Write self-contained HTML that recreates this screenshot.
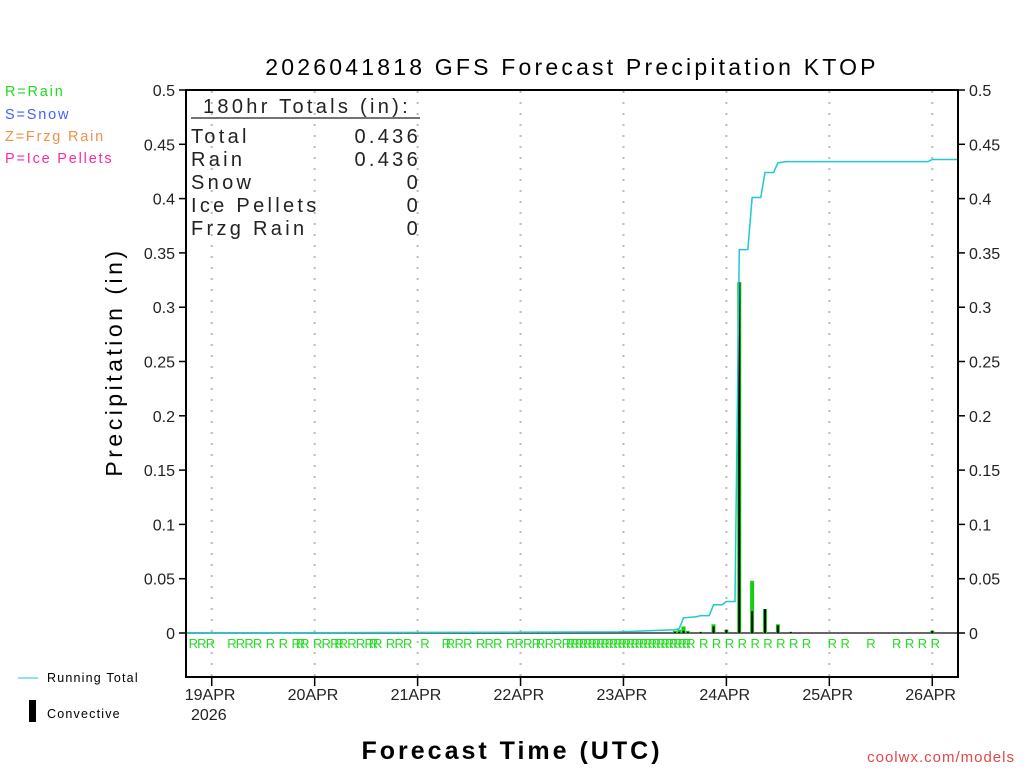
<!DOCTYPE html>
<html><head><meta charset="utf-8"><style>
html,body{margin:0;padding:0;background:#fff;}
svg{display:block;font-family:"Liberation Sans",sans-serif;}
</style></head><body>
<svg id="chart" width="1024" height="768" viewBox="0 0 1024 768">
<text x="572" y="75" font-size="23" text-anchor="middle" fill="#000" letter-spacing="3.2">2026041818 GFS Forecast Precipitation KTOP</text>
<g font-size="14.5" letter-spacing="1.8">
<text x="5" y="96" fill="#22dd22">R=Rain</text>
<text x="5" y="119" fill="#4060ff">S=Snow</text>
<text x="5" y="141" fill="#f0904a">Z=Frzg Rain</text>
<text x="5" y="163" fill="#ff2aa0">P=Ice Pellets</text>
</g>
<g id="grid"></g>
<g id="marks"></g>
<g id="labels"></g>
<rect x="186" y="90" width="772" height="587" fill="none" stroke="#000" stroke-width="2"/>
<g font-size="20" fill="#222" letter-spacing="3.3">
<text x="203" y="113">180hr Totals (in):</text>
<line x1="191" y1="118" x2="420" y2="118" stroke="#222" stroke-width="1.2"/>
<text x="191" y="143">Total</text><text x="421" y="143" text-anchor="end">0.436</text>
<text x="191" y="166">Rain</text><text x="421" y="166" text-anchor="end">0.436</text>
<text x="191" y="189">Snow</text><text x="421" y="189" text-anchor="end">0</text>
<text x="191" y="212">Ice Pellets</text><text x="421" y="212" text-anchor="end">0</text>
<text x="191" y="235">Frzg Rain</text><text x="421" y="235" text-anchor="end">0</text>
</g>
<text transform="translate(122,362) rotate(-90)" font-size="23" text-anchor="middle" letter-spacing="3.5">Precipitation (in)</text>
<text x="512" y="759" font-size="25" text-anchor="middle" font-weight="bold" letter-spacing="3">Forecast Time (UTC)</text>
<text x="1015" y="762" font-size="15" text-anchor="end" fill="#e04848" letter-spacing="1">coolwx.com/models</text>
<g>
<line x1="18" y1="678" x2="38" y2="678" stroke="#20c8d0" stroke-width="1"/>
<text x="47" y="682" font-size="12.5" letter-spacing="1.2">Running Total</text>
</g>
<g>
<rect x="29" y="700" width="7" height="22" fill="#000"/>
<text x="47" y="718" font-size="12.5" letter-spacing="1.2">Convective</text>
</g>
</svg>
<script>
const totalHours=[0,101,114,115,116,119,120,122,123,125,126,128,129,131,132,134,135,137,138,140,173,174,180];
const totalValues=[0,0.001,0.003,0.004,0.014,0.015,0.016,0.016,0.026,0.026,0.029,0.029,0.353,0.353,0.401,0.401,0.424,0.424,0.433,0.434,0.434,0.436,0.436];
const barHours=[114,115,116,117,120,123,126,129,132,135,138,141,174];
const barTotal=[0.002,0.003,0.006,0.002,0.001,0.008,0.003,0.323,0.048,0.022,0.008,0.001,0.002];
const barConvective=[0.001,0.001,0.002,0.001,0.001,0.006,0.003,0.323,0.020,0.022,0.007,0.001,0.002];
const rainHours=[1,3,5,10,12,14,16,19,22,25,26,27,30,32,34,35,36,38,40,42,43,44,47,49,51,55,60,61,63,65,68,70,72,75,77,79,81,82,84,86,88,89,90,91,92,93,94,95,96,97,98,99,100,101,102,103,104,105,106,107,108,109,110,111,112,113,114,115,116,117,120,123,126,129,132,135,138,141,144,150,153,159,165,168,171,174];
const dayLabels=['19APR','20APR','21APR','22APR','23APR','24APR','25APR','26APR'];
const dayHours=[6,30,54,78,102,126,150,174];
const yTicks=[0,0.05,0.1,0.15,0.2,0.25,0.3,0.35,0.4,0.45,0.5];
const yTickLabels=['0','0.05','0.1','0.15','0.2','0.25','0.3','0.35','0.4','0.45','0.5'];

const NS='http://www.w3.org/2000/svg';
const X0=186,X1=958,Y0=633,YT=90;
const xs=h=>X0+h*(X1-X0)/180;
const ys=v=>Y0-v*(Y0-YT)/0.5;
function mk(tag,attrs,parent){const e=document.createElementNS(NS,tag);for(const k in attrs)e.setAttribute(k,attrs[k]);parent.appendChild(e);return e;}
const grid=document.getElementById('grid'),marks=document.getElementById('marks'),labels=document.getElementById('labels');

dayHours.forEach((h,i)=>{
  const x=xs(h);
  const g=mk('line',{x1:x,y1:91,x2:x,y2:676,stroke:'#bbb','stroke-width':2,'stroke-dasharray':'2,9'},grid);
  
  
  const t=mk('line',{x1:x,y1:677,x2:x,y2:686,stroke:'#000','stroke-width':1.5},labels);
  
  
  const lb=mk('text',{x:x-27,y:700,'font-size':16,fill:'#222'},labels);
  lb.textContent=dayLabels[i];
  
  
});
const yr=mk('text',{x:191,y:720,'font-size':16,fill:'#222'},labels);
yr.textContent='2026';



yTicks.forEach((v,i)=>{
  const y=ys(v);
  const a=mk('line',{x1:179,y1:y,x2:186,y2:y,stroke:'#000','stroke-width':1.5},labels);
  
  
  const b=mk('line',{x1:958,y1:y,x2:965,y2:y,stroke:'#000','stroke-width':1.5},labels);
  
  
  const l=mk('text',{x:175,y:y+6,'font-size':16,'text-anchor':'end',fill:'#222'},labels);
  l.textContent=yTickLabels[i];
  
  
  const r=mk('text',{x:969,y:y+6,'font-size':16,fill:'#222'},labels);
  r.textContent=yTickLabels[i];
  
  
});

const zl=mk('line',{x1:X0,y1:Y0,x2:X1,y2:Y0,stroke:'#333','stroke-width':1.5},marks);



barHours.forEach((h,i)=>{
  const x=xs(h);
  const g=mk('rect',{x:x-2,y:ys(barTotal[i]),width:4,height:Math.max(1,Y0-ys(barTotal[i])),fill:'#10d010'},marks);
  
  
  const c=mk('rect',{x:x-1,y:ys(barConvective[i]),width:2,height:Math.max(1,Y0-ys(barConvective[i])),fill:'#000'},marks);
  
  
});

const pts=totalHours.map((h,i)=>xs(h)+','+ys(totalValues[i])).join(' ');
const line=mk('polyline',{points:pts,fill:'none',stroke:'#20c8d0','stroke-width':1.5},marks);



rainHours.forEach(h=>{
  const t=mk('text',{x:xs(h)+3,y:648,'font-size':13,'text-anchor':'middle',fill:'#22dd22'},labels);
  t.textContent='R';
  
  
});
</script>
</body></html>
